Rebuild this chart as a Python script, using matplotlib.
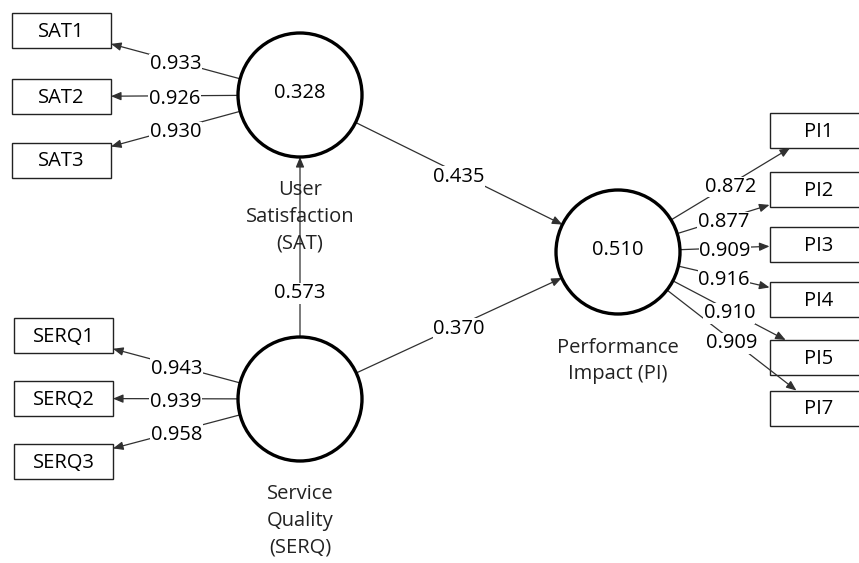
import numpy as np
import matplotlib
matplotlib.use('Agg')
import matplotlib.pyplot as plt
from matplotlib.patches import Circle, Rectangle

plt.rcParams['font.family'] = ['Open Sans', 'DejaVu Sans']

### DATA ###
sat_items = ['SAT1', 'SAT2', 'SAT3']
sat_loadings = [0.933, 0.926, 0.930]
serq_items = ['SERQ1', 'SERQ2', 'SERQ3']
serq_loadings = [0.943, 0.939, 0.958]
pi_items = ['PI1', 'PI2', 'PI3', 'PI4', 'PI5', 'PI7']
pi_loadings = [0.872, 0.877, 0.909, 0.916, 0.910, 0.909]

path_from = ['SERQ', 'SAT', 'SERQ']
path_to = ['SAT', 'PI', 'PI']
path_coef = [0.573, 0.435, 0.370]

r_squared = {'SAT': 0.328, 'PI': 0.510}
construct_names = {'SAT': 'User\nSatisfaction\n(SAT)',
                   'SERQ': 'Service\nQuality\n(SERQ)',
                   'PI': 'Performance\nImpact (PI)'}

### LAYOUT (pixel space) ###
centers = {'SAT': (300, 95), 'SERQ': (300, 399), 'PI': (618, 252)}
radius = 62
name_pos = {'SAT': (300, 217), 'SERQ': (300, 521), 'PI': (618, 361)}
box_w, box_h = 99, 35
box_x = {'SAT': 61.5, 'SERQ': 63.5, 'PI': 819}
box_y = {'SAT': [30.5, 96.5, 160], 'SERQ': [335.5, 398.5, 461.5],
         'PI': [130.5, 189.5, 244.5, 299, 357.5, 408]}
path_frac = [0.26, 0.5, 0.5]

FS = 14.5
LINE = '#303030'
DY = 3  # text sits a little low in the original

fig = plt.figure(figsize=(8.59, 5.63), dpi=100)
ax = fig.add_axes([0, 0, 1, 1])
ax.set_xlim(0, 859)
ax.set_ylim(563, 0)
ax.axis('off')


def circle_edge(c, p):
    # point on circle c towards p
    d = np.array(p, float) - np.array(c, float)
    return np.array(c) + radius * d / np.hypot(*d)


def box_edge(b, p):
    # where a line from p to box centre b enters the box
    d = np.array(b, float) - np.array(p, float)
    s = min(box_w / 2 / max(abs(d[0]), 1e-9), box_h / 2 / max(abs(d[1]), 1e-9))
    return np.array(b) - d * s


def arrow(start, end, label, frac=0.5):
    ax.annotate('', xy=end, xytext=start,
                arrowprops=dict(arrowstyle='-|>,head_length=0.6,head_width=0.25',
                                color=LINE, lw=0.9, shrinkA=0, shrinkB=0,
                                mutation_scale=10), zorder=3)
    m = np.array(start) + frac * (np.array(end) - np.array(start))
    ax.text(m[0], m[1] + DY, f'{label:.3f}', fontsize=FS, ha='center', va='center',
            zorder=4, bbox=dict(facecolor='white', edgecolor='none', pad=0.3))


# indicator boxes + outer loadings
for key, items, loads in [('SAT', sat_items, sat_loadings),
                          ('SERQ', serq_items, serq_loadings),
                          ('PI', pi_items, pi_loadings)]:
    c = centers[key]
    for name, ld, by in zip(items, loads, box_y[key]):
        b = (box_x[key], by)
        ax.add_patch(Rectangle((b[0] - box_w / 2, by - box_h / 2), box_w, box_h,
                               facecolor='white', edgecolor='#222222', lw=1.0, zorder=2))
        ax.text(b[0], by + 1.5, name, fontsize=FS, ha='center', va='center', zorder=2.5)
        arrow(circle_edge(c, b), box_edge(b, c), ld)

# structural paths
for f, t, coef, frac in zip(path_from, path_to, path_coef, path_frac):
    arrow(circle_edge(centers[f], centers[t]), circle_edge(centers[t], centers[f]), coef, frac)

# constructs
for key, c in centers.items():
    ax.add_patch(Circle(c, radius, facecolor='white', edgecolor='black', lw=2.4, zorder=5))
    if key in r_squared:
        ax.text(c[0], c[1] - 2, f'{r_squared[key]:.3f}', fontsize=FS, ha='center',
                va='center', zorder=6)
    ax.text(*name_pos[key], construct_names[key], fontsize=FS, ha='center', va='center',
            linespacing=1.45, color='#222222', zorder=6)

fig.savefig('out.png', dpi=100)
